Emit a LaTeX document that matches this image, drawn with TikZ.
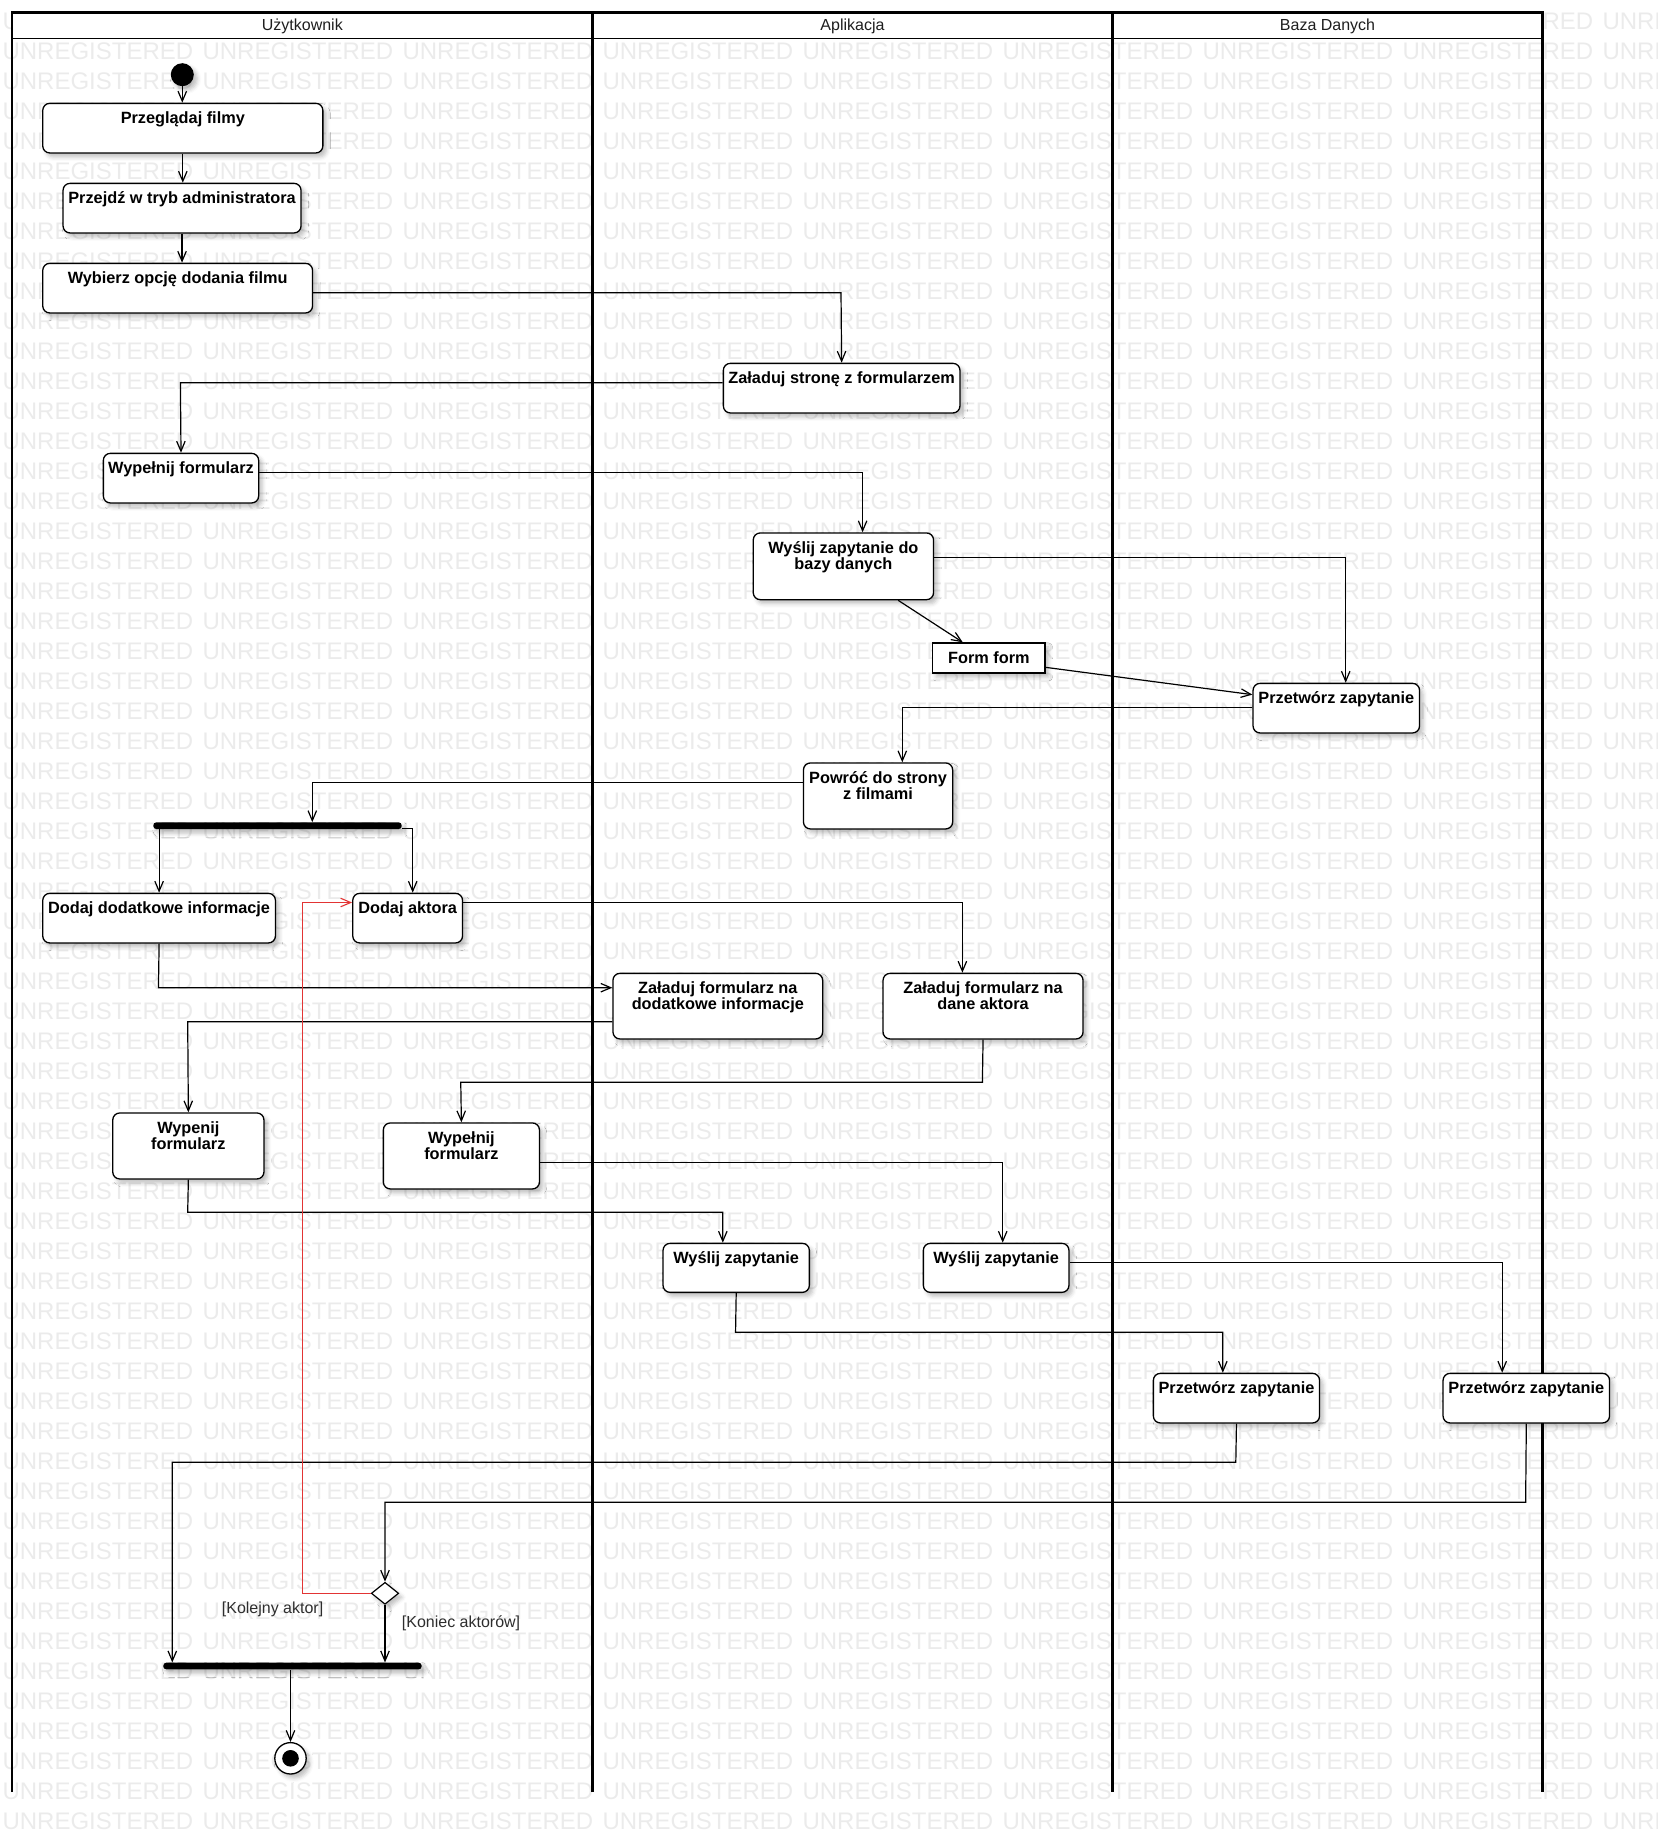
\documentclass[tikz,border=0pt]{standalone}
\usepackage{fontspec}
\setmainfont{Liberation Sans}
\usetikzlibrary{arrows.meta,shapes.geometric,shadows.blur}

\definecolor{wmgray}{RGB}{235,235,235}
\definecolor{redflow}{RGB}{226,52,52}
\definecolor{headtext}{RGB}{30,30,30}
\definecolor{guardtext}{RGB}{45,45,45}

% two centred lines, baseline of the box = baseline of the first line
\newcommand\twol[2]{\vtop{\baselineskip=15.7bp\lineskiplimit=-100bp\halign{\hfil##\hfil\cr#1\cr#2\cr}}}

% activity: name, left, top, right, bottom, text
\newcommand\mkact[6]{%
  \pgfmathsetmacro\mkactw{#4-#2}%
  \pgfmathsetmacro\mkactd{#5-#3-20.6}%
  \node[act, minimum width=\mkactw bp, text depth=\mkactd bp] (#1) at (#2,#3) {#6};}

\tikzset{
  softshadow/.style={blur shadow={shadow xshift=3.5bp, shadow yshift=-4bp,
      shadow blur radius=4bp, shadow opacity=25}},
  wm/.style={text=wmgray, font=\fontsize{24bp}{28bp}\selectfont, inner sep=0pt, anchor=west},
  act/.style={draw=black, line width=1.3bp, fill=white, rounded corners=7bp,
      inner sep=0pt, anchor=north west, text height=20.6bp,
      font=\bfseries\fontsize{16.3bp}{15.7bp}\selectfont, softshadow},
  formbox/.style={draw=black, line width=1.3bp, fill=white, inner sep=0pt,
      anchor=north west, text height=20.4bp, text depth=9.6bp,
      font=\bfseries\fontsize{16.3bp}{15.7bp}\selectfont, softshadow},
  bar/.style={fill=black, rounded corners=3bp, minimum height=6.7bp, inner sep=0pt, softshadow},
  flow/.style={line width=1.2bp, -{Straight Barb[length=10bp,width=8.5bp]}},
  redline/.style={draw=redflow, line width=1.1bp, -{Straight Barb[length=10bp,width=8.5bp]}},
  lane/.style={line width=2.4bp, line join=miter},
  lanehead/.style={text=headtext, font=\fontsize{16bp}{19bp}\selectfont, inner sep=0pt, anchor=base},
  guard/.style={text=guardtext, font=\fontsize{16bp}{19bp}\selectfont, inner sep=0pt, anchor=base west},
}

\begin{document}
\begin{tikzpicture}[x=1bp,y=-1bp]
\useasboundingbox (0,0) rectangle (1658,1842);
\clip (0,0) rectangle (1658,1842);

% background lettering
\foreach \k in {0,...,60}{
  \foreach \j in {0,...,8}{
    \node[wm] (wm-\k-\j) at ({2.35+200*\j},{21+30*\k}) {UNREGISTERED};
  }
}

% swimlane header band and lane borders
\fill[white] (12.2,12.3) rectangle (1542.4,38.3);
\draw[line width=1.6bp] (12.2,38.3) -- (1542.4,38.3);
\draw[lane] (12.2,1792) -- (12.2,12.3) -- (1542.4,12.3) -- (1542.4,1792);
\draw[lane] (592.5,12.3) -- (592.5,1792);
\draw[lane] (1112.5,12.3) -- (1112.5,1792);

% lane titles
\node[lanehead] (h-user) at (302.35,30) {Użytkownik};
\node[lanehead] (h-app)  at (852.5,30)  {Aplikacja};
\node[lanehead] (h-db)   at (1327.5,30) {Baza Danych};

% initial node
\node[circle, fill=black, minimum size=23bp, inner sep=0pt, softshadow] (start) at (182.3,74.7) {};

% activities
\mkact{prz}{42.1}{102.7}{322.2}{152.3}{Przeglądaj filmy}
\mkact{adm}{62.4}{182.7}{300.4}{232.3}{Przejdź w tryb administratora}
\mkact{wyb}{42.1}{262.7}{311.9}{312.3}{Wybierz opcję dodania filmu}
\mkact{zstr}{722.7}{362.7}{959.3}{412.3}{Załaduj stronę z formularzem}
\mkact{wyp1}{102.7}{452.7}{258}{502.3}{Wypełnij formularz}
\mkact{wzd}{752.6}{532.3}{932.9}{599}{\twol{Wyślij zapytanie do}{bazy danych}}
\node[formbox, minimum width=112.4bp] (form) at (932,642.3) {Form form};
\mkact{prz1}{1252.4}{682.7}{1418.9}{732.3}{Przetwórz zapytanie}
\mkact{pow}{802.8}{762.3}{952}{828.3}{\twol{Powróć do strony}{z filmami}}
\node[bar, minimum width=248.4bp] (fork) at (277.5,825.7) {};
\mkact{ddi}{42.1}{892.7}{274.8}{942.3}{Dodaj dodatkowe informacje}
\mkact{dak}{352.1}{892.7}{461.9}{942.3}{Dodaj aktora}
\mkact{zfd}{612.3}{972.7}{822}{1038.3}{\twol{Załaduj formularz na}{dodatkowe informacje}}
\mkact{zfa}{882.4}{972.7}{1082.4}{1038.3}{\twol{Załaduj formularz na}{dane aktora}}
\mkact{wpn}{112.1}{1112.3}{263.3}{1178.3}{\twol{Wypenij}{formularz}}
\mkact{wpl}{382.7}{1122.3}{538.8}{1188.3}{\twol{Wypełnij}{formularz}}
\mkact{wz1}{662.4}{1242.7}{808.7}{1291.7}{Wyślij zapytanie}
\mkact{wz2}{922.7}{1242.7}{1068.3}{1291.7}{Wyślij zapytanie}
\mkact{prz2}{1152.7}{1372.7}{1318.9}{1422.3}{Przetwórz zapytanie}
\mkact{prz3}{1442.4}{1372.7}{1608.9}{1422.3}{Przetwórz zapytanie}

% decision, join and final node
\node[diamond, draw=black, line width=1.2bp, fill=white, minimum width=27.4bp,
      minimum height=22bp, inner sep=0pt, softshadow] (dec) at (385,1593.3) {};
\node[bar, minimum width=258.4bp] (join) at (292.5,1666) {};
\node[circle, draw=black, line width=1.3bp, fill=white, minimum size=31.4bp,
      inner sep=0pt, softshadow] (end) at (290.5,1758.3) {};
\fill (end.center) circle[radius=8.3bp];

% guards
\node[guard] (g-next) at (221.7,1613.2) {[Kolejny aktor]};
\node[guard] (g-done) at (401.7,1627.5) {[Koniec aktorów]};

% bend points
\coordinate (d1) at (841,292.7);
\coordinate (e1) at (180.4,382.7);
\coordinate (f1) at (862.6,472.3);
\coordinate (g1) at (1345.7,557.3);
\coordinate (j1) at (902.3,707.7);
\coordinate (k1) at (312.3,782.7);
\coordinate (m1) at (412.7,828.3);
\coordinate (n1) at (158.45,987.7);
\coordinate (o1) at (962.4,902.3);
\coordinate (p1) at (187.7,1021.7);
\coordinate (q1) at (982.4,1082.3);
\coordinate (q2) at (460.75,1082.3);
\coordinate (r1) at (187.7,1212.3);
\coordinate (r2) at (722.8,1212.3);
\coordinate (s1) at (1002.7,1162.7);
\coordinate (t1) at (735.55,1332.3);
\coordinate (t2) at (1222.8,1332.3);
\coordinate (u1) at (1502.2,1262.3);
\coordinate (v1) at (1235.8,1462.3);
\coordinate (v2) at (172.3,1462.3);
\coordinate (w1) at (1525.65,1502.3);
\coordinate (w2) at (385,1502.3);
\coordinate (x1) at (302.3,902.5);

% control flows
\draw[flow] (start.south) -- (start.south |- prz.north);
\draw[flow] (prz.south) -- (prz.south |- adm.north);
\draw[flow] (adm.south) -- (adm.south |- wyb.north);
\draw[flow] (wyb.east |- d1) -- (d1) -- (zstr.north);
\draw[flow] (zstr.west |- e1) -- (e1) -- (wyp1.north);
\draw[flow] (wyp1.east |- f1) -- (f1) -- (f1 |- wzd.north);
\draw[flow] (wzd.east |- g1) -- (g1) -- (g1 |- prz1.north);
\draw[flow] ([xshift=54.75bp]wzd.south) -- ([xshift=-26.1bp]form.north);
\draw[flow] ([yshift=-9.4bp]form.east) -- ([yshift=13.5bp]prz1.west);
\draw[flow] (prz1.west |- j1) -- (j1) -- (j1 |- pow.north);
\draw[flow] (pow.west |- k1) -- (k1) -- (k1 |- fork.north);
\draw[flow] (ddi.north |- fork.south) -- (ddi.north);
\draw[flow] (fork.east |- m1) -- (m1) -- (m1 |- dak.north);
\draw[flow] (ddi.south) -- (n1) -- (n1 -| zfd.west);
\draw[flow] (dak.east |- o1) -- (o1) -- (o1 |- zfa.north);
\draw[flow] (zfd.west |- p1) -- (p1) -- (wpn.north);
\draw[flow] (zfa.south) -- (q1) -- (q2) -- (wpl.north);
\draw[flow] (wpn.south) -- (r1) -- (r2) -- (r2 |- wz1.north);
\draw[flow] (wpl.east |- s1) -- (s1) -- (s1 |- wz2.north);
\draw[flow] (wz1.south) -- (t1) -- (t2) -- (t2 |- prz2.north);
\draw[flow] (wz2.east |- u1) -- (u1) -- (u1 |- prz3.north);
\draw[flow] (prz2.south) -- (v1) -- (v2) -- (v2 |- join.north);
\draw[flow] (prz3.south) -- (w1) -- (w2) -- (dec.north);
\draw[redline] (dec.west) -| (x1) -- (x1 -| dak.west);
\draw[flow] (dec.south) -- (dec.south |- join.north);
\draw[flow] (join.south -| end.north) -- (end.north);
\end{tikzpicture}
\end{document}
